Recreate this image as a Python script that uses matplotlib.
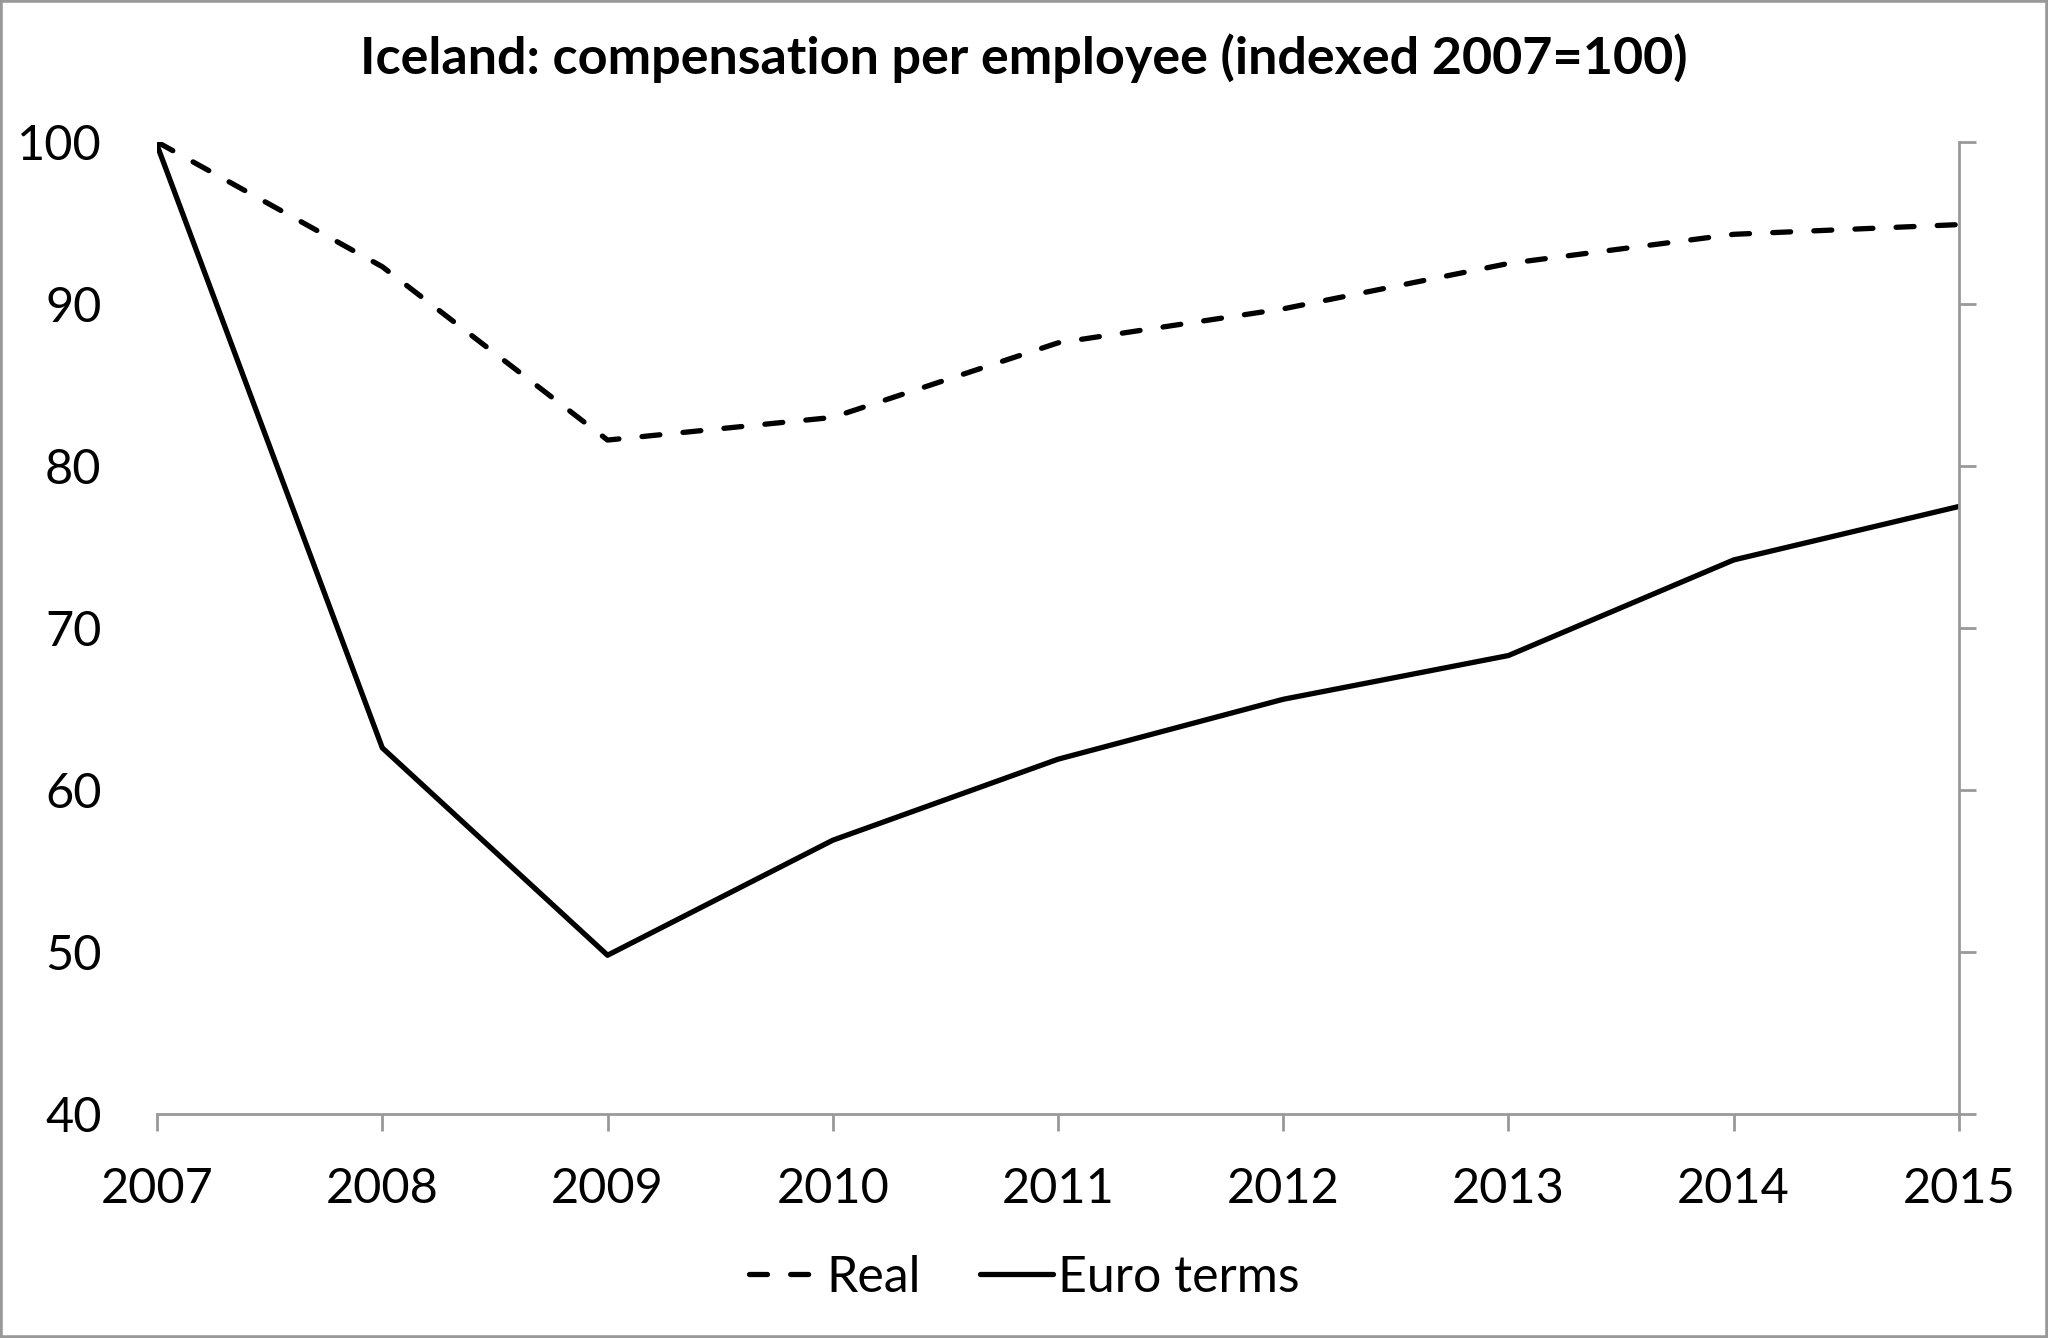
import matplotlib.pyplot as plt
from matplotlib.patches import Rectangle

years = [2007, 2008, 2009, 2010, 2011, 2012, 2013, 2014, 2015]
real = [100.0, 92.3, 81.6, 83.0, 87.6, 89.7, 92.5, 94.3, 94.9]
euro = [99.8, 62.6, 49.8, 56.9, 61.9, 65.6, 68.3, 74.2, 77.5]

plt.rcParams['font.family'] = ['Lato', 'DejaVu Sans']

fig = plt.figure(figsize=(20.48, 13.38), dpi=100)
ax = fig.add_axes([0.0767, 0.1674, 0.8798, 0.7265])

ax.plot(years, real, color='black', lw=3.8, linestyle=(0, (3.4, 4.4)),
        dash_capstyle='round', label='Real')
ax.plot(years, euro, color='black', lw=3.8, solid_capstyle='round', label='Euro terms')

ax.set_xlim(2007, 2015)
ax.set_ylim(40, 100)
ax.set_xticks(years)
ax.set_yticks(range(40, 101, 10))

gray = '#999999'
ax.spines['left'].set_visible(False)
ax.spines['top'].set_visible(False)
ax.spines['right'].set_color(gray)
ax.spines['bottom'].set_color(gray)
ax.spines['right'].set_linewidth(2)
ax.spines['bottom'].set_linewidth(2)

ax.tick_params(axis='x', direction='out', length=12, width=2, color=gray,
               labelsize=35, pad=26)
ax.tick_params(axis='y', which='both', left=False, right=True, labelleft=True,
               labelright=False, direction='out', length=12, width=2, color=gray,
               labelsize=35, pad=28)

fig.suptitle('Iceland: compensation per employee (indexed 2007=100)',
             fontsize=37.5, fontweight='bold', y=0.975)

fig.legend(loc='center', bbox_to_anchor=(0.5, 0.045), ncol=2, frameon=False,
           fontsize=36, handlelength=1.45, handletextpad=0.1, columnspacing=1.2)

fig.patches.append(Rectangle((0, 0), 1, 1, transform=fig.transFigure, fill=False,
                             edgecolor=gray, linewidth=4))

fig.savefig('out.png', dpi=100)
